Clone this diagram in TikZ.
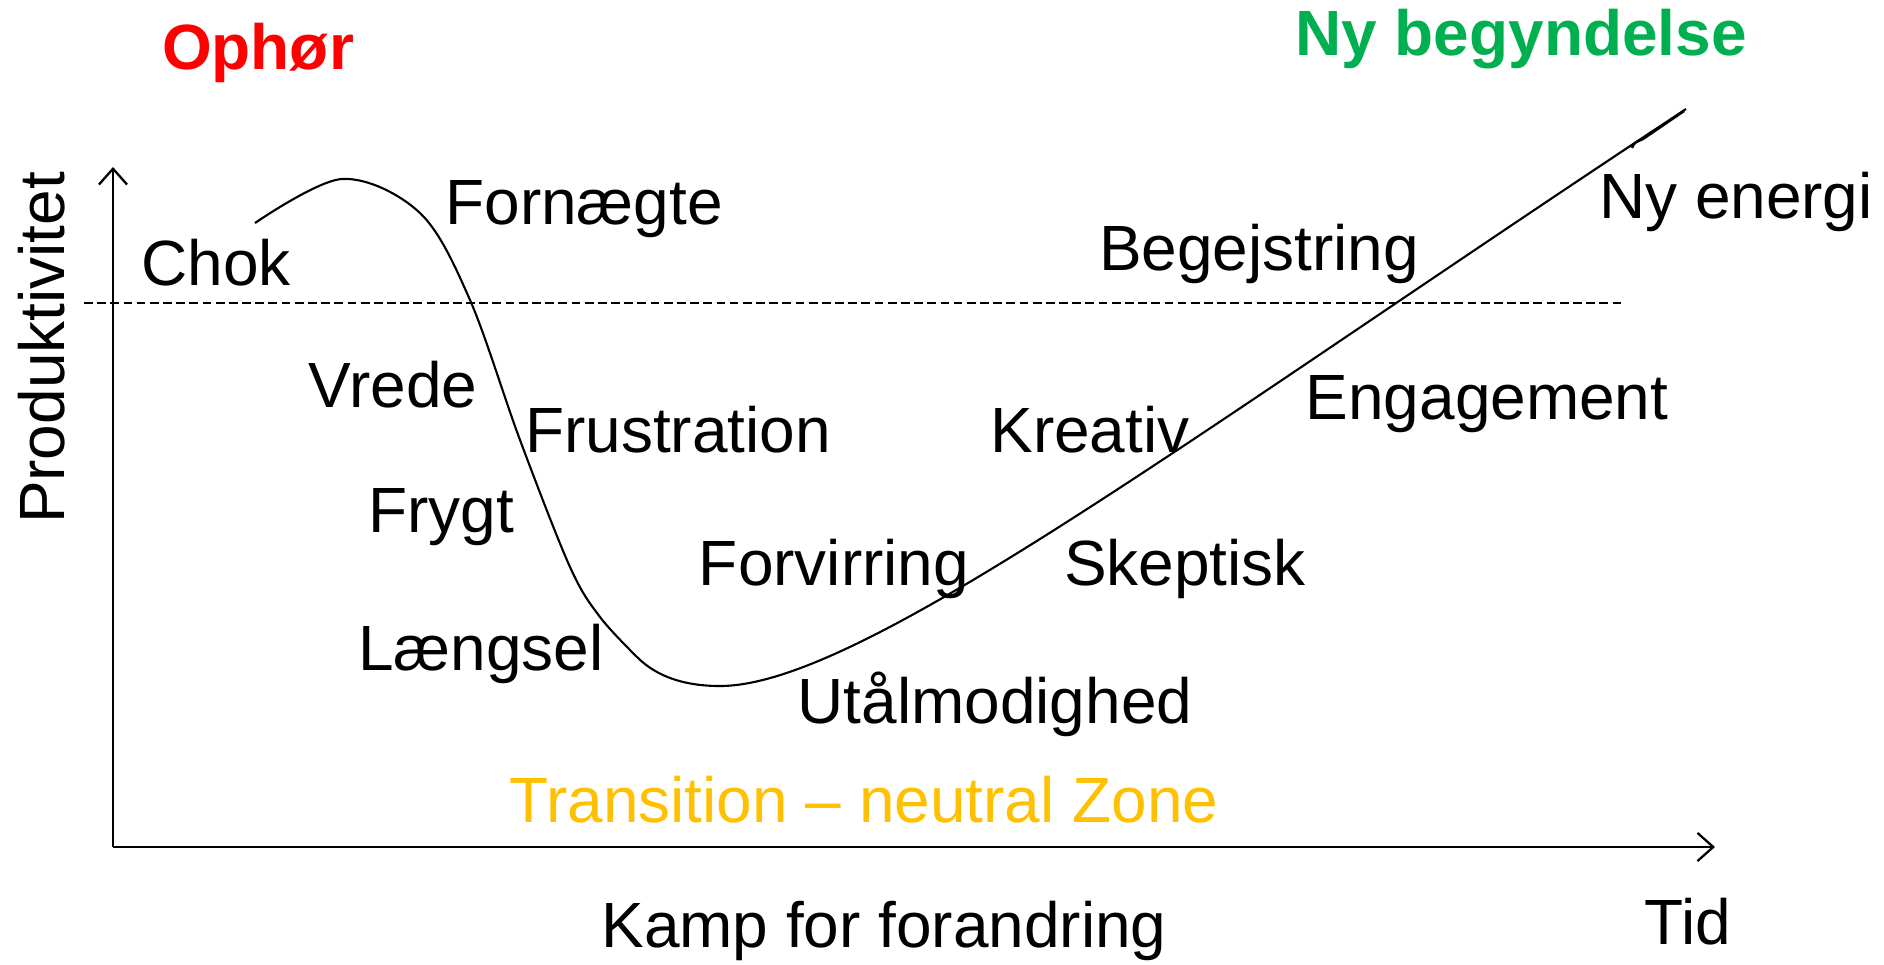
\documentclass[tikz,border=0pt]{standalone}
\usepackage{fontspec}
\setmainfont{Liberation Sans}
\usepackage{tikz}
\usetikzlibrary{calc}
\usetikzlibrary{arrows.meta,positioning}

\definecolor{ophred}{RGB}{255,0,0}
\definecolor{nygreen}{RGB}{0,176,80}
\definecolor{zoneorange}{RGB}{255,192,0}

\tikzset{
  lbl/.style={font=\fontsize{36.4}{40}\selectfont, inner sep=0pt},
  hdr/.style={lbl, font=\fontsize{36.4}{40}\selectfont\bfseries},
  axis/.style={line width=1.3pt, ->, >={Straight Barb[length=9pt,width=16pt]}}
}

\begin{document}
\begin{tikzpicture}[x=0.02cm,y=-0.02cm]
      \useasboundingbox (0,0) rectangle (1884,964);

      % axes
      \coordinate (o) at (113,847);
      \coordinate (ytop) at (113,167);
      \coordinate (xend) at (1715,847);
      \draw [axis] (o) -- (ytop);
      \draw [axis] (o) -- (xend);

      % dashed level
      \coordinate (dl) at (84,303);
      \coordinate (dr) at (1625,303);
      \draw [dashed, line width=0.8pt, dash pattern=on 5pt off 2.5pt] (dl) -- (dr);

      % curve
      \coordinate (cmin) at (720,686);
      \coordinate (cend) at (1686,109);
      \draw [line width=1.2pt] plot [smooth, tension=0.55] coordinates {
        (255,223) (342,179) (420,213) (470,300) (520,440) (570,567)
        (600,617) (637,657)}
        .. controls (657,677) and (685,686) .. (cmin)
        .. controls (860,686) and (1186,439) .. (cend);
      \coordinate (hk) at (1632,148);
      \coordinate (tip) at (1684,111);
      \draw [line width=1.4pt] (hk) .. controls (1634,143) .. (1643,139) -- (tip);

      \node[hdr, text=ophred] (ophor) at (258,53) {Ophør};
      \node[hdr, text=nygreen] (nybeg) at (1521,39) {Ny begyndelse};

      \node[lbl, rotate=90] (prod) at (42,348) {Produktivitet};

      \node[lbl] (chok) at (216,263) {Chok};
      \node[lbl] (forn) at (584,209) {Fornægte};
      \node[lbl] (begej) at (1259,254) {Begejstring};
      \node[lbl] (nyen) at (1736,202) {Ny energi};
      \node[lbl] (vrede) at (393,385) {Vrede};
      \node[lbl] (frust) at (678,430) {Frustration};
      \node[lbl] (kreat) at (1090,430) {Kreativ};
      \node[lbl] (engag) at (1487,404) {Engagement};
      \node[lbl] (frygt) at (441,517) {Frygt};
      \node[lbl] (forv) at (834,569) {Forvirring};
      \node[lbl] (skep) at (1185,569) {Skeptisk};
      \node[lbl] (laeng) at (481,654) {Længsel};
      \node[lbl] (utaal) at (995,704) {Utålmodighed};
      \node[lbl, text=zoneorange] (zone) at (864,800) {Transition – neutral Zone};
      \node[lbl] (kamp) at (884,931) {Kamp for forandring};
      \node[lbl] (tid) at (1688,922) {Tid};
\end{tikzpicture}
\end{document}
